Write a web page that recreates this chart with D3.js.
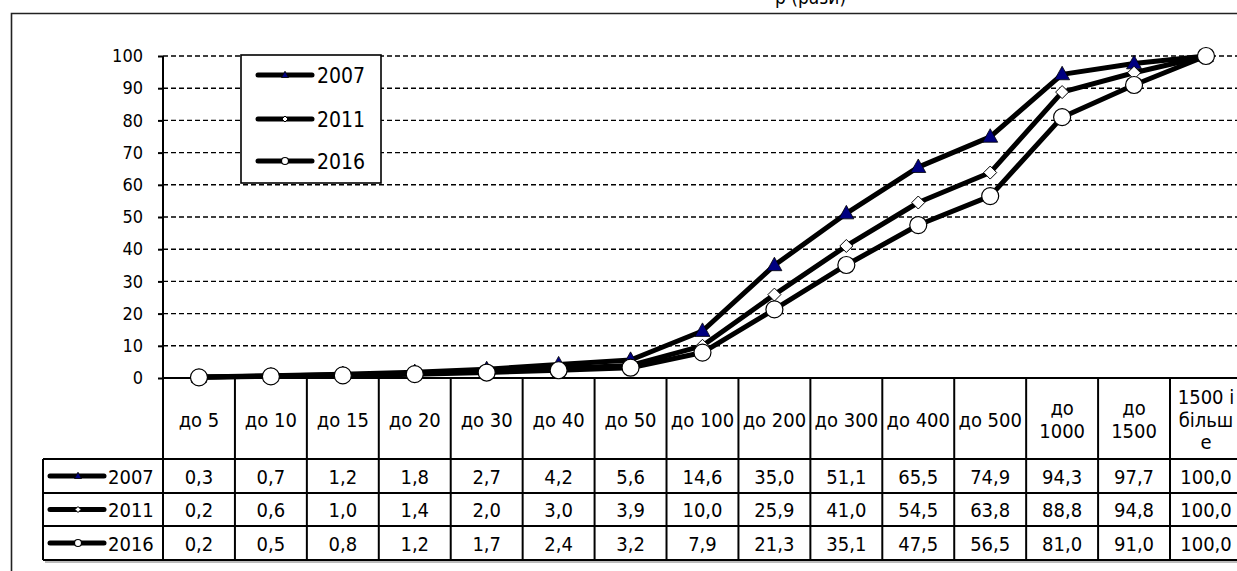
<!DOCTYPE html>
<html>
<head>
<meta charset="utf-8">
<script src="https://cdn.jsdelivr.net/npm/d3@7/dist/d3.min.js"></script>
<style>
  html, body { margin: 0; padding: 0; background: #fff; overflow: hidden; }
  svg { display: block; }
  text { font-family: 'DejaVu Sans Condensed', 'DejaVu Sans', sans-serif; font-stretch: condensed; fill: #000; }
</style>
</head>
<body>
<svg id="chart" width="1237" height="571"></svg>
<script>
// ---- data ----
const categories = ["до 5","до 10","до 15","до 20","до 30","до 40","до 50","до 100","до 200","до 300","до 400","до 500","до 1000","до 1500","1500 і більше"];
const headerLines = [["до 5"],["до 10"],["до 15"],["до 20"],["до 30"],["до 40"],["до 50"],["до 100"],["до 200"],["до 300"],["до 400"],["до 500"],["до","1000"],["до","1500"],["1500 і","більш","е"]];
const seriesNames = ["2007","2011","2016"];
const values2007 = [0.3,0.7,1.2,1.8,2.7,4.2,5.6,14.6,35.0,51.1,65.5,74.9,94.3,97.7,100.0];
const values2011 = [0.2,0.6,1.0,1.4,2.0,3.0,3.9,10.0,25.9,41.0,54.5,63.8,88.8,94.8,100.0];
const values2016 = [0.2,0.5,0.8,1.2,1.7,2.4,3.2,7.9,21.3,35.1,47.5,56.5,81.0,91.0,100.0];
const yTicks = [0,10,20,30,40,50,60,70,80,90,100];
const titleFragment = "р (рази)";

const series = [
  {name: seriesNames[0], values: values2007, marker: "triangle"},
  {name: seriesNames[1], values: values2011, marker: "diamond"},
  {name: seriesNames[2], values: values2016, marker: "circle"}
];

// ---- layout ----
const svg = d3.select("#chart");
const plotLeft = 163, colW = 71.93;
const plotRight = plotLeft + colW * categories.length;
const plotTop = 56, plotBottom = 378;

const x = d3.scaleBand().domain(categories).range([plotLeft, plotRight]).padding(0);
const y = d3.scaleLinear().domain([0, 100]).range([plotBottom, plotTop]);
const cx = c => x(c) + x.bandwidth() / 2;

// title fragment (cut off at top)
svg.append("text").attr("x", 775).attr("y", 4).attr("font-size", 19).text(titleFragment);

// outer frame
svg.append("path")
  .attr("d", `M11.5,${571} L11.5,13.5 L1237,13.5`)
  .attr("fill", "none").attr("stroke", "#222").attr("stroke-width", 1.6);

// gridlines
svg.append("g").selectAll("line").data(yTicks.filter(t => t > 0)).join("line")
  .attr("x1", plotLeft).attr("x2", plotRight)
  .attr("y1", d => y(d)).attr("y2", d => y(d))
  .attr("stroke", "#000").attr("stroke-width", 1.4).attr("stroke-dasharray", "5,3");

// y axis
const yAxis = d3.axisLeft(y).tickValues(yTicks).tickSize(5).tickPadding(15).tickFormat(d3.format("d"));
const gy = svg.append("g").attr("transform", `translate(${plotLeft},0)`).call(yAxis);
gy.select(".domain").attr("stroke", "#000").attr("stroke-width", 2).attr("d", `M0,${plotTop}V${plotBottom}`);
gy.selectAll(".tick line").attr("stroke", "#000").attr("stroke-width", 2);
gy.selectAll(".tick text").attr("font-size", 18).attr("font-family", null).attr("fill", "#000");

// ---- table ----
const headerBottom = 459;
const rowEdges = [459, 493, 526, 560];
const tableLeft = 43;
const tbl = svg.append("g");

// shadow
tbl.append("line").attr("x1", tableLeft + 2).attr("x2", 1237).attr("y1", 562).attr("y2", 562)
  .attr("stroke", "#bbb").attr("stroke-width", 2);

// header vertical lines
const bounds = categories.map(c => x(c)).concat([plotRight]);
tbl.selectAll("line.v").data(bounds).join("line").attr("class", "v")
  .attr("x1", d => d).attr("x2", d => d).attr("y1", plotBottom).attr("y2", rowEdges[3])
  .attr("stroke", "#000").attr("stroke-width", 2);
// left border of the table rows
tbl.append("line").attr("x1", tableLeft).attr("x2", tableLeft).attr("y1", rowEdges[0]).attr("y2", rowEdges[3])
  .attr("stroke", "#000").attr("stroke-width", 2);
// horizontal row lines
tbl.selectAll("line.h").data(rowEdges).join("line").attr("class", "h")
  .attr("x1", tableLeft).attr("x2", plotRight).attr("y1", d => d).attr("y2", d => d)
  .attr("stroke", "#000").attr("stroke-width", 2);

// header labels
const hdr = tbl.selectAll("text.hdr").data(categories).join("text").attr("class", "hdr")
  .attr("text-anchor", "middle").attr("font-size", 20);
hdr.each(function(c, i) {
  const lines = headerLines[i];
  const lh = 22.5;
  const mid = (plotBottom + headerBottom) / 2 + 1;
  const firstBase = mid - (lines.length - 1) * lh / 2 + 7;
  d3.select(this).selectAll("tspan").data(lines).join("tspan")
    .attr("x", cx(c)).attr("y", (d, j) => firstBase + j * lh).text(d => d);
});

// table values
const fmt = v => d3.format(".1f")(v).replace(".", ",");
series.forEach((s, si) => {
  const rc = (rowEdges[si] + rowEdges[si + 1]) / 2;
  tbl.append("g").selectAll("text").data(s.values).join("text")
    .attr("x", (d, i) => cx(categories[i])).attr("y", rc + 7.5)
    .attr("text-anchor", "middle").attr("font-size", 20).text(d => fmt(d));
});

// marker drawing helper
function drawMarker(g, type, px, py, size) {
  if (type === "triangle") {
    const h = size * 0.9, w = size;
    g.append("path")
      .attr("d", `M${px},${py - h * 0.6}L${px + w / 2},${py + h * 0.4}L${px - w / 2},${py + h * 0.4}Z`)
      .attr("fill", "#000080").attr("stroke", "#000").attr("stroke-width", 0.8);
  } else if (type === "diamond") {
    const r = size / 2;
    g.append("path")
      .attr("d", `M${px},${py - r}L${px + r},${py}L${px},${py + r}L${px - r},${py}Z`)
      .attr("fill", "#fff").attr("stroke", "#000").attr("stroke-width", 1);
  } else {
    g.append("circle").attr("cx", px).attr("cy", py).attr("r", size / 2)
      .attr("fill", "#fff").attr("stroke", "#000").attr("stroke-width", 1.2);
  }
}

// row legend keys
series.forEach((s, si) => {
  const rc = (rowEdges[si] + rowEdges[si + 1]) / 2;
  const g = tbl.append("g");
  g.append("line").attr("x1", 50).attr("x2", 104).attr("y1", rc).attr("y2", rc)
    .attr("stroke", "#000").attr("stroke-width", 5).attr("stroke-linecap", "round");
  drawMarker(g, s.marker, 78, rc, s.marker === "triangle" ? 7 : s.marker === "diamond" ? 6 : 7);
  g.append("text").attr("x", 108).attr("y", rc + 7.5).attr("font-size", 20).text(s.name);
});

// x axis line
svg.append("line").attr("x1", plotLeft).attr("x2", plotRight).attr("y1", plotBottom).attr("y2", plotBottom)
  .attr("stroke", "#000").attr("stroke-width", 2);

// ---- legend ----
const lg = svg.append("g");
lg.append("rect").attr("x", 241).attr("y", 55).attr("width", 140).attr("height", 128)
  .attr("fill", "#fff").attr("stroke", "#000").attr("stroke-width", 1.6);
const legendY = [75, 119, 161];
series.forEach((s, si) => {
  const ly = legendY[si];
  const g = lg.append("g");
  g.append("line").attr("x1", 258).attr("x2", 312).attr("y1", ly).attr("y2", ly)
    .attr("stroke", "#000").attr("stroke-width", 5).attr("stroke-linecap", "round");
  drawMarker(g, s.marker, 285, ly, s.marker === "triangle" ? 7 : s.marker === "diamond" ? 6 : 7);
  g.append("text").attr("x", 317).attr("y", ly + 8).attr("font-size", 21).text(s.name);
});

// ---- series lines & markers ----
const line = d3.line().x((d, i) => cx(categories[i])).y(d => y(d));
series.forEach(s => {
  const g = svg.append("g");
  g.append("path").datum(s.values).attr("d", line)
    .attr("fill", "none").attr("stroke", "#000").attr("stroke-width", 5).attr("stroke-linejoin", "round");
  s.values.forEach((v, i) => {
    drawMarker(g, s.marker, cx(categories[i]), y(v), s.marker === "triangle" ? 15 : s.marker === "diamond" ? 13 : 17);
  });
});
</script>
</body>
</html>
